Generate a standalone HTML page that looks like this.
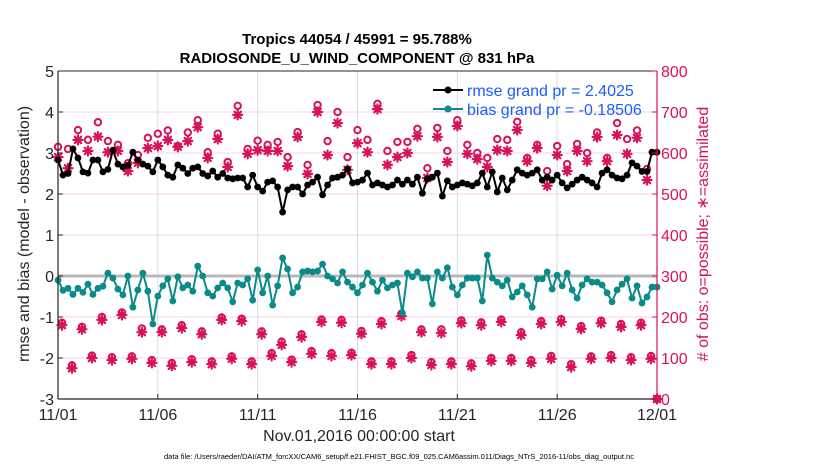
<!DOCTYPE html>
<html><head><meta charset="utf-8"><style>
html,body{margin:0;padding:0;background:#fff;}
svg{display:block;font-family:"Liberation Sans",Arial,sans-serif;}
</style></head><body>
<svg id="chart" width="830" height="470" viewBox="0 0 830 470" xmlns="http://www.w3.org/2000/svg">
<text x="357" y="44" text-anchor="middle" font-size="15" font-weight="bold" fill="#000">Tropics 44054 / 45991 = 95.788%</text>
<text x="357" y="63" text-anchor="middle" font-size="15" font-weight="bold" fill="#000">RADIOSONDE_U_WIND_COMPONENT @ 831 hPa</text>
<g id="grid"></g>
<g id="series"></g>
<g id="axes"></g>
<text transform="translate(29,234) rotate(-90)" text-anchor="middle" font-size="16" fill="#262626">rmse and bias (model - observation)</text>
<text transform="translate(708,234) rotate(-90)" text-anchor="middle" font-size="16" fill="#d7125a"># of obs: o=possible; ∗=assimilated</text>
<text x="359" y="441" text-anchor="middle" font-size="16" fill="#262626">Nov.01,2016 00:00:00 start</text>
<text x="399" y="459" text-anchor="middle" font-size="7.5" fill="#000">data file: /Users/raeder/DAI/ATM_forcXX/CAM6_setup/f.e21.FHIST_BGC.f09_025.CAM6assim.011/Diags_NTrS_2016-11/obs_diag_output.nc</text>
<g>
<line x1="433" y1="90" x2="463" y2="90" stroke="#000" stroke-width="2"/>
<circle cx="448" cy="90" r="3.5" fill="#000"/>
<text x="467" y="96" font-size="16" fill="#1a5cff">rmse grand pr = 2.4025</text>
<line x1="433" y1="109" x2="463" y2="109" stroke="#0b8a8a" stroke-width="2"/>
<circle cx="448" cy="109" r="3.5" fill="#0b8a8a"/>
<text x="467" y="115" font-size="16" fill="#1a5cff">bias grand pr = -0.18506</text>
</g>
</svg>
<script>
const xTickLabels = ["11/01","11/06","11/11","11/16","11/21","11/26","12/01"];
const leftTicks = [5,4,3,2,1,0,-1,-2,-3];
const rightTicks = [800,700,600,500,400,300,200,100,0];
const rmse = [2.83,2.46,2.5,3.1,2.88,2.54,2.51,2.83,2.83,2.54,
2.6,3.07,2.73,2.66,2.7,3.02,2.83,2.73,2.68,2.54,
2.83,2.66,2.46,2.41,2.71,2.63,2.5,2.63,2.66,2.5,
2.44,2.56,2.41,2.5,2.39,2.37,2.39,2.39,2.17,2.46,
2.17,2.07,2.29,2.32,2.17,1.56,2.1,2.17,2.17,2.0,
2.22,2.29,2.41,1.98,2.22,2.39,2.41,2.46,2.61,2.27,
2.29,2.34,2.51,2.22,2.27,2.22,2.17,2.22,2.34,2.24,
2.34,2.24,2.41,2.02,2.37,2.41,2.51,1.95,2.32,2.17,
2.22,2.27,2.24,2.2,2.27,2.51,2.17,2.54,2.05,2.39,
2.1,2.34,2.59,2.51,2.46,2.51,2.59,2.34,2.41,2.34,
2.46,2.27,2.15,2.24,2.34,2.41,2.34,2.27,2.17,2.51,
2.59,2.46,2.39,2.37,2.46,2.76,2.68,2.55,2.55,3.02,3.02];
const bias = [-0.1,-0.35,-0.3,-0.45,-0.3,-0.4,-0.2,-0.45,-0.3,-0.25,
0.07,-0.05,-0.32,-0.46,0,-0.76,-0.34,0.07,-0.37,-1.17,
-0.49,-0.24,-0.07,-0.61,-0.02,-0.29,-0.22,-0.37,0.24,0,
-0.41,-0.49,-0.29,-0.17,-0.29,-0.63,-0.17,-0.22,-0.07,-0.59,
0.15,-0.41,0,-0.71,-0.24,0.44,0.17,-0.41,-0.27,0.1,
0.12,0.1,0.12,0.29,0,-0.07,-0.17,0.1,-0.15,-0.27,
-0.41,-0.22,0.07,-0.15,-0.37,-0.1,-0.29,-0.22,-0.17,-0.9,
0.07,-0.02,0.1,-0.05,-0.05,-0.68,0.1,-0.05,0.2,-0.27,
-0.46,-0.22,-0.05,-0.05,-0.05,-0.61,0.51,-0.05,-0.15,-0.24,
-0.1,-0.51,-0.39,-0.24,-0.46,-0.76,-0.07,-0.07,0.1,-0.32,
0.02,-0.24,0.07,-0.34,-0.54,-0.22,-0.07,-0.15,-0.15,-0.22,
-0.41,-0.63,-0.34,-0.2,-0.07,-0.54,-0.24,-0.66,-0.51,-0.27,-0.27];
const upperPossible = [615,610,656,632,675,629,620,575,595,637,647,655,617,650,680,602,647,578,715,610,630,620,627,590,651,571,717,629,700,590,656,632,720,605,627,627,659,563,661,605,680,620,600,588,634,632,676,588,620,556,617,573,622,600,650,588,673,634,655,561,0];
const upperAssim = [590,563,632,605,640,602,605,556,576,612,617,632,615,629,663,588,634,566,693,598,607,605,605,568,639,549,700,595,673,559,624,602,707,571,590,600,641,539,639,578,666,598,585,566,607,605,656,580,612,520,595,556,605,580,639,580,644,598,637,534,0];
const rowAPossible = [186,176,200,211,172,170,180,165,199,196,165,140,158,194,193,166,190,208,170,170,192,187,194,163,190,195,178,191,183,186];
const rowAAssim = [180,170,193,205,163,163,173,158,193,190,158,132,151,188,186,159,183,202,163,161,185,180,188,156,183,188,171,185,176,180];
const rowBPossible = [82,106,102,104,95,88,97,92,104,92,112,96,117,112,113,92,92,107,90,92,87,100,100,95,105,85,104,107,102,105];
const rowBAssim = [75,100,95,98,88,81,90,85,98,85,105,90,110,105,107,85,85,100,83,85,80,93,93,88,98,78,98,100,95,98];

const X0=58, X1=657, YT=71, YB=399, NDAYS=30;
const xDay = d => X0 + d*(X1-X0)/NDAYS;
const yL = v => YT + (5-v)*(YB-YT)/8;
const yR = n => YB - n*(YB-YT)/800;
const NS="http://www.w3.org/2000/svg";
function mk(tag, attrs, parent){const e=document.createElementNS(NS,tag);for(const k in attrs)e.setAttribute(k,attrs[k]);parent.appendChild(e);return e;}
const grid=document.getElementById('grid'), series=document.getElementById('series'), axes=document.getElementById('axes');
const RED="#d7125a", TEAL="#0b8a8a";

rightTicks.forEach(n=>{
  if(n===0||n===800) return;
  const l=mk('line',{x1:X0,x2:X1,y1:yR(n),y2:yR(n),stroke:"#f6d3de","stroke-width":1},grid);
  
  
});
xTickLabels.forEach((t,i)=>{
  const x=xDay(i*5);
  if(i>0&&i<xTickLabels.length-1){
    const l=mk('line',{x1:x,x2:x,y1:YT,y2:YB,stroke:"#dcdcdc","stroke-width":1},grid);
    
    
  }
  const tx=mk('text',{x:x,y:420,"text-anchor":"middle","font-size":16,fill:"#262626"},axes);
  tx.textContent=t;
  
  
  const tk=mk('line',{x1:x,x2:x,y1:YB,y2:YB-5,stroke:"#262626"},axes);
  
  
});
const zl=mk('line',{x1:X0,x2:X1,y1:yL(0),y2:yL(0),stroke:"#b8b8b8","stroke-width":3},grid);



function circleMark(x,y,name){const c=mk('circle',{cx:x,cy:y,r:3.2,fill:"#fff",stroke:RED,"stroke-width":2},series);}
function starMark(x,y,name){const g=mk('g',{stroke:RED,"stroke-width":2.2,"stroke-linecap":"round"},series);
  
  
  const r=4.5;[[0,1],[1,0],[0.707,0.707],[0.707,-0.707]].forEach(([a,b])=>mk('line',{x1:x-a*r,y1:y-b*r,x2:x+a*r,y2:y+b*r},g));
  mk('circle',{cx:x,cy:y,r:2.5,fill:RED,stroke:"none"},g);}
upperPossible.forEach((n,k)=>{circleMark(xDay(k*0.5),yR(n)-(n===0?0:0),'obs-possible-upper');});
upperAssim.forEach((n,k)=>{starMark(xDay(k*0.5),yR(n),'obs-assimilated-upper');});
rowAPossible.forEach((n,k)=>{circleMark(xDay(k+0.2),yR(n),'obs-possible-rowA');});
rowAAssim.forEach((n,k)=>{starMark(xDay(k+0.2),yR(n),'obs-assimilated-rowA');});
rowBPossible.forEach((n,k)=>{circleMark(xDay(k+0.7),yR(n),'obs-possible-rowB');});
rowBAssim.forEach((n,k)=>{starMark(xDay(k+0.7),yR(n),'obs-assimilated-rowB');});

function lineSeries(vals,color,name){
  const pts=vals.map((v,i)=>xDay(i*0.25).toFixed(1)+","+yL(v).toFixed(1)).join(" ");
  const p=mk('polyline',{points:pts,fill:"none",stroke:color,"stroke-width":2,"stroke-linejoin":"round"},series);
  
  
  vals.forEach((v,i)=>{const c=mk('circle',{cx:xDay(i*0.25),cy:yL(v),r:3.4,fill:color},series);
    
    });
}
lineSeries(bias,TEAL,'bias');
lineSeries(rmse,"#000",'rmse');

// axes frame
let a=mk('line',{x1:X0,x2:X1,y1:YT,y2:YT,stroke:"#262626","stroke-width":1},axes);


a=mk('line',{x1:X0,x2:X1,y1:YB,y2:YB,stroke:"#2a1a22","stroke-width":1.2},axes);


a=mk('line',{x1:X0,x2:X0,y1:YT,y2:YB,stroke:"#262626","stroke-width":1.2},axes);


a=mk('line',{x1:X1,x2:X1,y1:YT,y2:YB,stroke:RED,"stroke-width":1.2},axes);


leftTicks.forEach(v=>{
  const t=mk('text',{x:54,y:yL(v)+6,"text-anchor":"end","font-size":16,fill:"#262626"},axes);
  t.textContent=v;
  
  
  const tk=mk('line',{x1:X0,x2:X0+5,y1:yL(v),y2:yL(v),stroke:"#262626"},axes);
  
  
});
rightTicks.forEach(n=>{
  const t=mk('text',{x:661,y:yR(n)+6,"text-anchor":"start","font-size":16,fill:RED},axes);
  t.textContent=n;
  
  
  const tk=mk('line',{x1:X1,x2:X1-5,y1:yR(n),y2:yR(n),stroke:RED},axes);
  
  
});
</script>
</body></html>
